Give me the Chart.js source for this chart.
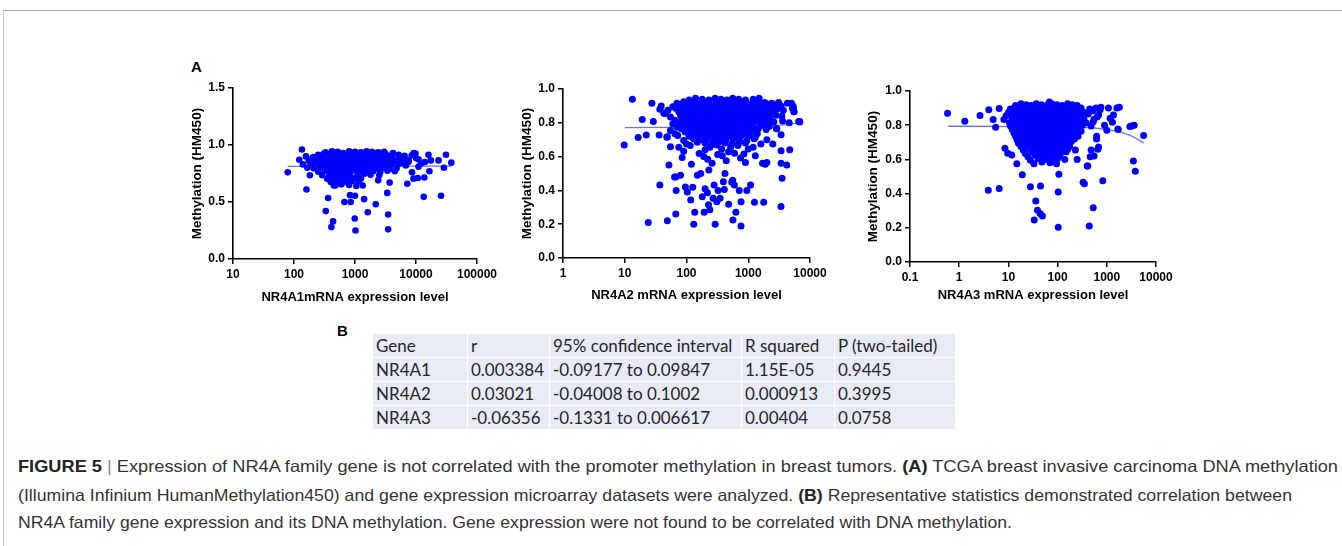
<!DOCTYPE html>
<html>
<head>
<meta charset="utf-8">
<script src="https://cdn.jsdelivr.net/npm/chart.js@4.4.1/dist/chart.umd.min.js"></script>
<style>
body{margin:0;width:1342px;height:546px;background:#fff;position:relative;overflow:hidden;font-family:"Liberation Sans",Arial,sans-serif;}
.frame{position:absolute;left:3px;top:10px;right:0;bottom:0;border-top:1px solid #a6a6a6;border-left:1px solid #c8c8c8;}
.panel{position:absolute;}
.lbl{position:absolute;font-weight:bold;font-size:15px;color:#000;}
table.stats{position:absolute;left:372px;top:333px;border-collapse:collapse;font-family:Lato,"Open Sans",sans-serif;font-size:17px;color:#262626;border-bottom:1px solid #d0d0d0;}
table.stats td{background:#e8eaf4;border:1px solid #fff;height:23px;padding:0 0 0 3px;white-space:nowrap;}
.cap{position:absolute;left:18px;white-space:nowrap;font-family:"Liberation Sans",Arial,sans-serif;font-size:16.5px;color:#333;transform-origin:0 50%;}
.cap b{color:#222;}
.cap .bar{color:#888;}
</style>
</head>
<body>
<div class="frame"></div>
<div class="lbl" style="left:191px;top:58px;">A</div>
<div class="lbl" style="left:337px;top:322px;">B</div>

<canvas id="c1" class="panel" width="320" height="235" style="left:180px;top:75px;"></canvas>
<canvas id="c2" class="panel" width="330" height="235" style="left:510px;top:75px;"></canvas>
<canvas id="c3" class="panel" width="320" height="235" style="left:856px;top:77px;"></canvas>

<table class="stats" id="stats"></table>

<div class="cap" id="cap1" style="top:457px;"><b>FIGURE 5</b> <span class="bar">|</span> Expression of NR4A family gene is not correlated with the promoter methylation in breast tumors. <b>(A)</b> TCGA breast invasive carcinoma DNA methylation</div>
<div class="cap" id="cap2" style="top:486px;">(Illumina Infinium HumanMethylation450) and gene expression microarray datasets were analyzed. <b>(B)</b> Representative statistics demonstrated correlation between</div>
<div class="cap" id="cap3" style="top:513px;">NR4A family gene expression and its DNA methylation. Gene expression were not found to be correlated with DNA methylation.</div>

<script>
// NR4A1 expression vs methylation (left)
var nr4a1Points = [
  [79,.76],[135,.96],[122,.87],[157,.9],[160,.61],[182,.735],[208,.895],[140,.83],[175,.86],[165,.80],
  [332,.42],[363,.535],[437,.33],[410,.28],[480,.645],[460,.705],[670,.5],[830,.56],[850,.5],[990,.355],
  [1020,.25],[1000,.555],[1410,.525],[1620,.41],[2190,.48],[1340,.645],[2400,.69],[3380,.58],[3500,.39],[3500,.26],
  [3700,.67],[7200,.66],[9100,.705],[10700,.71],[13700,.715],[13400,.545],[16600,.77],[17500,.865],[16000,.915],[25700,.555],
  [23400,.865],[31000,.915],[28700,.80],[38000,.845],[9800,.925],[11000,.875],[7600,.865],[14000,.85],[8600,.76],[11000,.81],[5900,.84],
  [330,.935],[420,.945],[520,.94],[640,.93],[800,.945],[1000,.94],[1250,.935],[1550,.945],[1900,.94],[2400,.935],[3000,.94],[4200,.93],[9200,.93],
  [250,.915],[310,.925],[380,.92],[460,.91],[560,.925],[680,.92],[820,.915],[1000,.925],[1200,.92],[1450,.91],[1750,.92],[2100,.925],[2600,.915],[3200,.92],[4000,.91],[5200,.915],[6500,.905],[8500,.91],
  [200,.885],[260,.895],[320,.89],[390,.88],[470,.895],[570,.89],[690,.885],[840,.895],[1020,.89],[1230,.88],[1500,.89],[1800,.895],[2200,.885],[2700,.89],[3300,.88],[4100,.885],[5200,.89],[6600,.88],[10000,.885],
  [220,.855],[280,.865],[340,.86],[410,.85],[500,.865],[600,.86],[730,.855],[880,.865],[1070,.86],[1300,.85],[1580,.86],[1900,.865],[2300,.855],[2800,.86],[3500,.85],[4400,.855],[5600,.86],[7500,.85],
  [190,.825],[240,.835],[300,.83],[360,.82],[440,.835],[530,.83],[650,.825],[790,.835],[960,.83],[1160,.82],[1400,.83],[1700,.835],[2050,.825],[2500,.83],[3100,.82],[3900,.825],[5000,.83],[6800,.82],[12000,.835],
  [210,.795],[270,.805],[330,.80],[400,.79],[490,.805],[590,.80],[720,.795],[870,.805],[1050,.80],[1280,.79],[1550,.80],[1900,.805],[2350,.795],[2900,.80],[3700,.79],[4800,.795],
  [250,.765],[320,.775],[400,.77],[480,.76],[580,.775],[700,.77],[850,.765],[1050,.775],[1300,.77],[1600,.76],[2000,.77],[2600,.765],[3400,.775],[4500,.77],
  [290,.735],[380,.745],[470,.74],[560,.73],[680,.745],[830,.74],[1100,.735],[1400,.745],[1800,.74],[2500,.735],
  [350,.705],[440,.715],[540,.71],[660,.70],[800,.715],[1000,.71],[1250,.705],
  [400,.675],[520,.685],[640,.68],[760,.67],[900,.685],[1150,.68],
  [450,.645],[600,.655],[800,.65],[1050,.64]
];
var nr4a1Fit = [[79,.812],[38000,.814]];

// NR4A2 (panel A, middle)
var nr4a2Points = [
  [9.8,.669],[13.3,.94],[16.5,.713],[19.2,.82],[22.3,.728],[27.5,.915],[29,.807],[36,.728],[37,.88],[39,.9],[43,.856],[49,.718],[55,.659],
  [5000,.915],[5400,.886],[6550,.807],[5500,.866],[5200,.886],[6830,.807],[4600,.80],[3600,.81],[2850,.767],[3400,.73],
  [24,.21],[49,.22],[67,.26],[131,.2],[291,.2],[764,.19],[565,.225],[136,.27],[193,.27],[239,.285],[630,.27],[3390,.305],
  [1260,.33],[1780,.33],[764,.333],[480,.318],[227,.315],[117,.343],[310,.333],[270,.353],[350,.353],[180,.363],
  [68,.40],[103,.39],[96,.42],[126,.418],[37,.432],[200,.41],[218,.386],[280,.432],[325,.40],[410,.406],[715,.40],[950,.40],
  [1090,.432],[540,.448],[595,.432],[395,.451],[3530,.472],[67,.48],[80,.49],[150,.49],[52,.55],[64,.48],[170,.5],[230,.52],
  [420,.5],[560,.46],[1880,.555],[4200,.55],[4700,.64],[3400,.56],[2500,.675],
  [110,.935],[140,.945],[180,.94],[230,.935],[290,.945],[360,.94],[450,.935],[560,.945],[700,.94],[900,.935],[1200,.94],[1500,.945],
  [70,.915],[90,.925],[115,.92],[145,.915],[185,.925],[235,.92],[300,.915],[370,.925],[460,.92],[580,.915],[720,.925],[900,.92],[1150,.915],[1450,.925],[1850,.92],[2400,.915],[3100,.92],[4300,.915],
  [85,.908],[130,.91],[210,.905],[330,.912],[520,.908],[820,.91],[1300,.906],[2100,.91],
  [60,.895],[78,.905],[100,.90],[125,.895],[160,.905],[200,.90],[250,.895],[320,.905],[400,.90],[500,.895],[630,.905],[790,.90],[1000,.895],[1250,.905],[1600,.90],[2000,.895],[2600,.905],[3400,.90],[5300,.90],
  [50,.875],[68,.885],[88,.88],[110,.875],[140,.885],[175,.88],[220,.875],[275,.885],[345,.88],[430,.875],[540,.885],[680,.88],[850,.875],[1070,.885],[1350,.88],[1700,.875],[2200,.885],[2900,.88],[3700,.875],
  [95,.868],[150,.872],[240,.866],[380,.87],[600,.873],[950,.868],[1500,.87],[2400,.866],
  [45,.855],[75,.865],[95,.86],[120,.855],[150,.865],[190,.86],[240,.855],[300,.865],[380,.86],[470,.855],[590,.865],[740,.86],[930,.855],[1170,.865],[1480,.86],[1900,.855],[2500,.865],[5500,.865],
  [55,.835],[80,.845],[102,.84],[130,.835],[165,.845],[205,.84],[260,.835],[330,.845],[410,.84],[520,.835],[650,.845],[820,.84],[1030,.835],[1300,.845],[1650,.84],[2100,.835],[2800,.845],[3500,.84],
  [85,.828],[135,.83],[215,.826],[340,.832],[540,.828],[860,.83],[1350,.826],[2200,.83],
  [65,.815],[88,.825],[112,.82],[140,.815],[180,.825],[225,.82],[285,.815],[360,.825],[450,.82],[560,.815],[710,.825],[890,.82],[1120,.815],[1420,.825],[1800,.82],[2300,.815],
  [60,.795],[78,.805],[100,.80],[125,.795],[155,.805],[195,.80],[245,.795],[310,.805],[390,.80],[490,.795],[610,.805],[770,.80],[970,.795],[1230,.805],[1550,.80],[2000,.795],[2600,.805],[6800,.805],
  [110,.788],[175,.79],[280,.786],[440,.792],[700,.788],[1100,.79],[1750,.786],
  [70,.775],[92,.785],[118,.78],[150,.775],[190,.785],[240,.78],[300,.775],[380,.785],[480,.78],[600,.775],[760,.785],[960,.78],[1220,.775],[1600,.785],[2200,.78],
  [55,.755],[82,.765],[105,.76],[135,.755],[170,.765],[215,.76],[270,.755],[340,.765],[430,.76],[540,.755],[680,.765],[860,.76],[1100,.755],[1450,.765],[1950,.76],
  [120,.748],[190,.75],[300,.746],[480,.752],[760,.748],[1200,.75],
  [65,.735],[95,.745],[125,.74],[160,.735],[200,.745],[250,.74],[320,.735],[400,.745],[510,.74],[650,.735],[830,.745],[1050,.74],[1400,.735],[2900,.765],
  [48,.715],[72,.725],[110,.72],[145,.715],[185,.725],[230,.72],[290,.715],[370,.725],[470,.72],[600,.715],[780,.725],[1000,.72],[1300,.715],
  [90,.695],[130,.705],[170,.70],[210,.695],[270,.705],[340,.70],[430,.695],[560,.705],[720,.70],[950,.695],[1250,.705],[2000,.70],
  [100,.675],[150,.685],[200,.68],[260,.675],[330,.685],[420,.68],[540,.675],[700,.685],[900,.68],[1600,.675],
  [75,.655],[115,.665],[240,.655],[310,.668],[520,.655],[680,.665],[1200,.655],
  [90,.632],[200,.64],[370,.645],[480,.628],[1000,.645],[3400,.635],
  [160,.618],[320,.612],[600,.62],[850,.615],
  [85,.595],[190,.60],[380,.605],[750,.592],[1300,.605],
  [220,.585],[440,.575],
  [120,.555],[260,.56],[900,.565],[1700,.56],[2000,.565]
];
var nr4a2Fit = [[10,.771],[1000,.7755],[2000,.78],[3000,.785],[4000,.789],[5000,.794],[7200,.80]];

// NR4A3 (panel A, right)
var nr4a3Points = [
  [0.58,.87],[1.3,.823],[2.65,.857],[4.0,.89],[4.9,.833],[5.5,.788],[6.5,.898],[8.1,.833],[8.5,.665],[9.7,.636],[11.7,.626],[14.8,.574],[19.2,.51],
  [3.9,.42],[6.5,.43],[28,.44],[45,.445],[103,.41],[330,.467],[350,.458],[830,.475],[36,.356],[39,.303],[44,.284],[49,.269],[33.5,.245],
  [103,.203],[440,.21],[530,.317],[106,.513],[400,.562],[3470,.59],[3800,.53],[5600,.74],
  [700,.897],[1600,.90],[1800,.905],[1370,.86],[1170,.84],[1080,.90],[1300,.817],[1680,.778],[730,.89],[640,.85],[530,.82],[620,.735],
  [655,.66],[480,.655],[460,.615],[410,.562],[550,.62],[3200,.796],[3600,.80],[2950,.792],[1700,.775],[620,.72],[680,.673],[900,.80],[1000,.77],
  [14,.915],[18,.925],[23,.92],[29,.915],[37,.925],[47,.92],[60,.915],[76,.925],[97,.92],[125,.915],[160,.925],[200,.92],[250,.915],[68,.935],
  [11,.895],[13.5,.905],[17,.90],[21,.895],[27,.905],[34,.90],[43,.895],[55,.905],[70,.90],[88,.895],[112,.905],[140,.90],[180,.895],[230,.905],[300,.90],[450,.895],[600,.90],[760,.905],
  [10,.875],[12.5,.885],[16,.88],[20,.875],[25,.885],[32,.88],[40,.875],[50,.885],[64,.88],[80,.875],[100,.885],[128,.88],[165,.875],[210,.885],[270,.88],[350,.875],[520,.885],
  [9,.855],[11.5,.865],[14.5,.86],[18,.855],[23,.865],[29,.86],[37,.855],[46,.865],[58,.86],[73,.855],[92,.865],[118,.86],[150,.855],[190,.865],[245,.86],[320,.855],[420,.865],[680,.86],
  [12,.835],[15,.845],[19,.84],[24,.835],[30,.845],[38,.84],[48,.835],[61,.845],[77,.84],[97,.835],[123,.845],[157,.84],[200,.835],[260,.845],[340,.84],[550,.835],
  [10.5,.815],[13,.825],[16.5,.82],[21,.815],[26,.825],[33,.82],[42,.815],[53,.825],[67,.82],[85,.815],[107,.825],[136,.82],[173,.815],[220,.825],[290,.82],[380,.815],
  [11,.795],[14,.805],[18,.80],[22,.795],[28,.805],[35,.80],[45,.795],[57,.805],[72,.80],[90,.795],[115,.805],[145,.80],[185,.795],[240,.805],[320,.80],[480,.795],
  [12,.775],[15.5,.785],[19.5,.78],[25,.775],[31,.785],[39,.78],[50,.775],[63,.785],[80,.78],[100,.775],[128,.785],[162,.78],[205,.775],[270,.785],
  [13,.755],[17,.765],[21,.76],[27,.755],[34,.765],[43,.76],[55,.755],[70,.765],[88,.76],[112,.755],[142,.765],[180,.76],[230,.755],[300,.765],
  [14,.735],[18,.745],[23,.74],[29,.735],[37,.745],[47,.74],[60,.735],[76,.745],[96,.74],[122,.735],[155,.745],[200,.74],[260,.735],
  [15,.715],[20,.725],[25,.72],[32,.715],[41,.725],[52,.72],[66,.715],[84,.725],[107,.72],[136,.715],[172,.725],[220,.72],
  [16,.695],[21,.705],[27,.70],[35,.695],[45,.705],[57,.70],[73,.695],[93,.705],[118,.70],[150,.695],[190,.705],
  [18,.675],[24,.685],[31,.68],[40,.675],[51,.685],[65,.68],[83,.675],[105,.685],[135,.68],[175,.675],
  [20,.655],[27,.665],[35,.66],[45,.655],[58,.665],[75,.66],[96,.655],[125,.665],[160,.66],[230,.655],
  [22,.635],[30,.645],[40,.64],[52,.635],[68,.645],[88,.64],[115,.635],[150,.645],
  [25,.615],[35,.625],[47,.62],[62,.615],[82,.625],[110,.62],
  [28,.595],[40,.605],[55,.60],[75,.595],[100,.605],[140,.60],[250,.60],
  [33,.575],[48,.585],[70,.58],[95,.575]
];
var nr4a3Fit = [[0.6,.794],[100,.792],[500,.785],[1000,.776],[2000,.758],[3000,.740],[4000,.722],[5600,.695]];

var xTicks1 = [10, 100, 1000, 10000, 100000];
var xTicks2 = [1, 10, 100, 1000, 10000];
var xTicks3 = [0.1, 1, 10, 100, 1000, 10000];

var statHeader = ["Gene", "r", "95% confidence interval", "R squared", "P (two-tailed)"];
var statGenes = ["NR4A1", "NR4A2", "NR4A3"];
var statR = ["0.003384", "0.03021", "-0.06356"];
var statCI = ["-0.09177 to 0.09847", "-0.04008 to 0.1002", "-0.1331 to 0.006617"];
var statR2 = ["1.15E-05", "0.000913", "0.00404"];
var statP = ["0.9445", "0.3995", "0.0758"];

var tickFont = {family: "'Liberation Sans', Arial, sans-serif", size: 12, weight: 'bold'};
var titleFont = {family: "'Liberation Sans', Arial, sans-serif", size: 13, weight: 'bold'};

function toXY(list) {
    return list.map(function(p) { return {x: p[0], y: p[1]}; });
}

function scatterPanel(id, pts, fit, xTicks, yMax, yStep, xTitle, box) {
    var ctx = document.getElementById(id).getContext('2d');
    return new Chart(ctx, {
        type: 'scatter',
        data: {
            datasets: [{
                data: toXY(pts),
                backgroundColor: '#0000ff',
                borderWidth: 0,
                pointRadius: box.r,
                pointHoverRadius: box.r
            }, {
                type: 'line',
                data: toXY(fit),
                borderColor: '#6f6ff5',
                borderWidth: 1.3,
                pointRadius: 0,
                fill: false,
                tension: 0
            }]
        },
        options: {
            responsive: false,
            animation: false,
            events: [],
            layout: {padding: {left: 0, top: box.top, right: box.right, bottom: 0}},
            plugins: {legend: {display: false}, tooltip: {enabled: false}},
            scales: {
                x: {
                    type: 'logarithmic',
                    min: xTicks[0],
                    max: xTicks[xTicks.length - 1],
                    afterBuildTicks: function(s) { s.ticks = xTicks.map(function(v) { return {value: v}; }); },
                    afterFit: function(s) { s.height = box.xh; },
                    ticks: {
                        font: tickFont, color: '#000', padding: 3, maxRotation: 0, autoSkip: false,
                        callback: function(v) { return String(v); }
                    },
                    grid: {drawOnChartArea: false, color: '#000', lineWidth: 1.5, tickLength: 5},
                    border: {color: '#000', width: 1.6},
                    title: {display: true, text: xTitle, font: titleFont, color: '#000', padding: {top: 0, bottom: box.tb}}
                },
                y: {
                    min: 0,
                    max: yMax,
                    afterFit: function(s) { s.width = box.yw; },
                    ticks: {
                        stepSize: yStep, font: tickFont, color: '#000', padding: 3,
                        callback: function(v) { return v.toFixed(1); }
                    },
                    grid: {drawOnChartArea: false, color: '#000', lineWidth: 1.5, tickLength: 5},
                    border: {color: '#000', width: 1.6},
                    title: {display: true, text: 'Methylation (HM450)', font: {family: titleFont.family, size: 13.5, weight: 'bold'}, color: '#000', padding: {top: 9, bottom: 0}}
                }
            }
        }
    });
}

scatterPanel('c1', nr4a1Points, nr4a1Fit, xTicks1, 1.5, 0.5, 'NR4A1mRNA expression level', {top: 13, right: 22, xh: 51, yw: 53, tb: 5, r: 3.3});
scatterPanel('c2', nr4a2Points, nr4a2Fit, xTicks2, 1.0, 0.2, 'NR4A2 mRNA expression level', {top: 14, right: 30, xh: 52, yw: 53, tb: 7, r: 3.5});
scatterPanel('c3', nr4a3Points, nr4a3Fit, xTicks3, 1.0, 0.2, 'NR4A3 mRNA expression level', {top: 14, right: 20, xh: 50, yw: 54, tb: 9, r: 3.5});

// stats table
var colW = [94, 81, 191, 92, 120];
var table = document.getElementById('stats');
var rows = [statHeader];
for (var i = 0; i < statGenes.length; i++) rows.push([statGenes[i], statR[i], statCI[i], statR2[i], statP[i]]);
rows.forEach(function(r) {
    var tr = document.createElement('tr');
    r.forEach(function(t, j) {
        var td = document.createElement('td');
        td.textContent = t;
        td.style.width = (colW[j] - 3) + 'px';
        tr.appendChild(td);
    });
    table.appendChild(tr);
});

// squeeze caption lines to the widths in the figure
var capW = {cap1: 1320, cap2: 1274, cap3: 994};
Object.keys(capW).forEach(function(id) {
    var el = document.getElementById(id);
    var w = el.getBoundingClientRect().width;
    el.style.transform = 'scaleX(' + (capW[id] / w) + ')';
});
</script>
</body>
</html>
